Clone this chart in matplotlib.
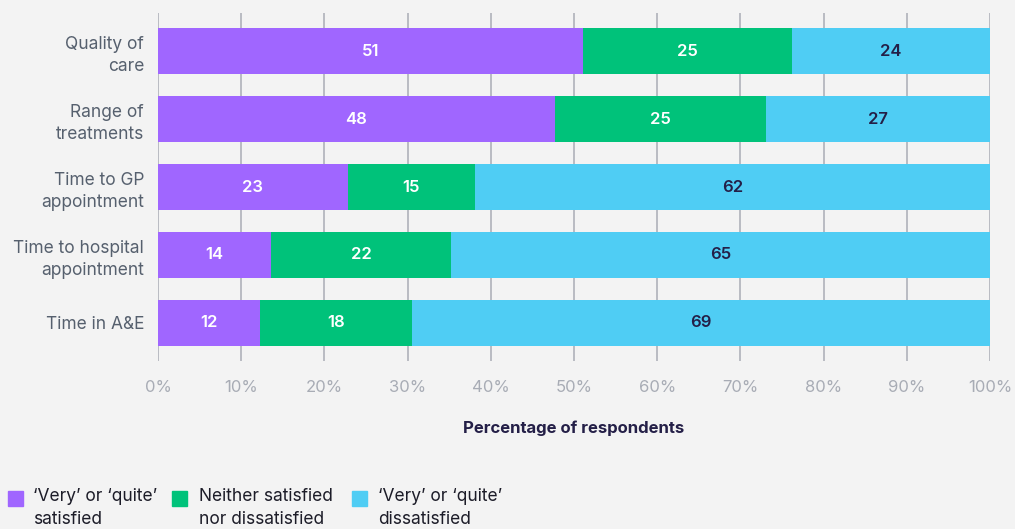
import matplotlib.pyplot as plt
from matplotlib.patches import Rectangle
import numpy as np

plt.rcParams['font.family'] = ['Inter', 'DejaVu Sans']

# survey results, % of respondents
categories = ['Quality of\ncare', 'Range of\ntreatments', 'Time to GP\nappointment',
              'Time to hospital\nappointment', 'Time in A&E']
satisfied = [51.1, 47.7, 22.8, 13.6, 12.2]
neither = [25.1, 25.4, 15.3, 21.6, 18.3]
dissatisfied = [23.8, 26.9, 61.9, 64.8, 69.49]

series_names = ['\u2018Very\u2019 or \u2018quite\u2019\nsatisfied',
                'Neither satisfied\nnor dissatisfied',
                '\u2018Very\u2019 or \u2018quite\u2019\ndissatisfied']
colors = ['#a066ff', '#00c27a', '#4fcdf4']
text_colors = ['white', 'white', '#241f47']
xticks = np.arange(0, 101, 10)

bg = '#f3f3f3'
fig = plt.figure(figsize=(10.15, 5.29), dpi=100, facecolor=bg)
ax = fig.add_axes([158 / 1015, 1 - 361 / 529, 832 / 1015, 348 / 529])
ax.set_facecolor(bg)

y = np.arange(len(categories))
left = np.zeros(len(categories))
for vals, c, tc in zip([satisfied, neither, dissatisfied], colors, text_colors):
    vals = np.array(vals)
    ax.barh(y, vals, left=left, height=0.676, color=c, zorder=3)
    for yi, l, v in zip(y, left, vals):
        ax.text(l + v / 2, yi, f'{v:.0f}', ha='center', va='center',
                color=tc, fontsize=12, fontweight='semibold', zorder=4)
    left += vals

ax.set_xlim(0, 100)
ax.set_ylim(len(categories) - 0.44, -0.56)
ax.set_xticks(xticks)
ax.set_xticklabels([f'{t}%' for t in xticks])
ax.set_yticks(y)
ax.set_yticklabels(categories, fontsize=12.5, color='#56606e', linespacing=1.35)
ax.tick_params(axis='x', length=0, pad=14, labelsize=12, labelcolor='#a8acb5')
ax.tick_params(axis='y', length=0, pad=10)
ax.grid(axis='x', color='#b4b7be', linewidth=1.3, zorder=0)
for s in ax.spines.values():
    s.set_visible(False)

ax.set_xlabel('Percentage of respondents', fontsize=12, fontweight='bold',
              color='#241f47', labelpad=18)

# legend drawn by hand along the bottom
W, H = 1015, 529
for x0, tx, c, name in zip([8, 172, 352], [33, 199, 378], colors, series_names):
    fig.patches.append(Rectangle((x0 / W, 1 - 506 / H), 15 / W, 15 / H,
                                 transform=fig.transFigure, color=c))
    fig.text(tx / W, 1 - 488 / H, name, ha='left', va='top', fontsize=12.5,
             color='#1c1c28', linespacing=1.45)

fig.savefig('out.png', dpi=100, facecolor=bg)
